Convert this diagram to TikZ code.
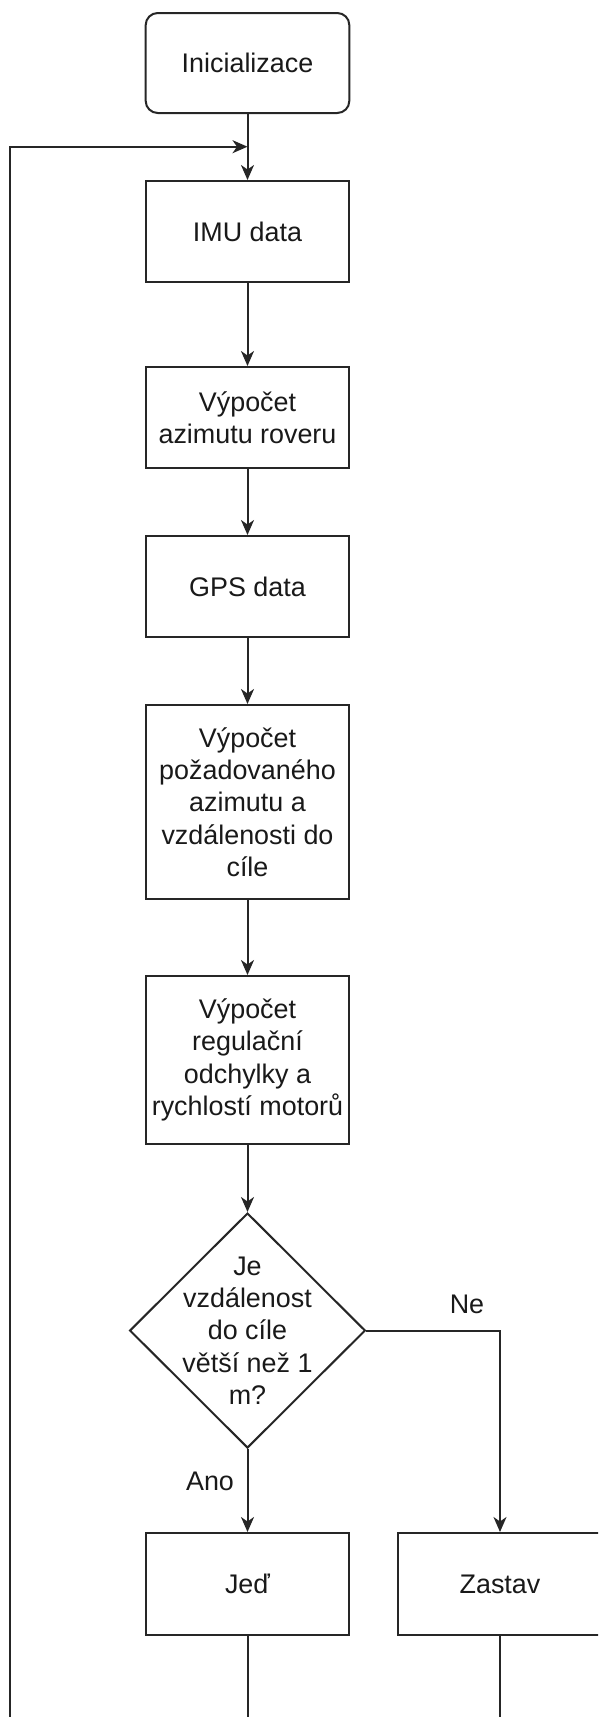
\documentclass[tikz,border=0pt]{standalone}
\usepackage{fontspec}
\setmainfont{Liberation Sans}
\usetikzlibrary{shapes.geometric,arrows.meta}
\begin{document}
\begin{tikzpicture}[x=1pt,y=-1pt,
  every node/.style={font=\fontsize{26.9}{32.3}\selectfont, text=black!90},
  box/.style={draw=black!85, line width=2pt, rectangle, minimum width=203.6pt, inner sep=0pt, align=center},
  startbox/.style={box, rounded corners=12pt},
  decision/.style={draw=black!85, line width=2pt, diamond, minimum width=235.7pt, minimum height=235pt, inner sep=0pt},
  conn/.style={draw=black!85, line width=2pt, -{Stealth[length=15pt,width=13pt,inset=4.5pt]}},
  plain/.style={draw=black!85, line width=2pt},
  lbl/.style={inner sep=0pt, align=center}
]
\useasboundingbox (0,0) rectangle (598,1717);
\clip (0,0) rectangle (598,1717);

\node[startbox, minimum height=100pt] (init) at (247.5,63) {Inicializace};
\node[box, minimum height=101pt] (imu) at (247.5,231.5) {IMU data};
\node[box, minimum height=101pt] (azim) at (247.5,417.5) {Výpočet\\azimutu roveru};
\node[box, minimum height=101pt] (gps) at (247.5,586.5) {GPS data};
\node[box, minimum height=194pt] (poz) at (247.5,802) {Výpočet\\požadovaného\\azimutu a\\vzdálenosti do\\cíle};
\node[box, minimum height=168pt] (reg) at (247.5,1060) {Výpočet\\regulační\\odchylky a\\rychlostí motorů};
\node[decision] (dec) at (247.5,1330.5) {};
\node[lbl] (dectext) at (dec.center) {Je\\vzdálenost\\do cíle\\větší než 1\\m?};
\node[box, minimum height=102pt] (jed) at (247.5,1584) {Jeď};
\node[box, minimum height=102pt] (zastav) at (500,1584) {Zastav};

\node[lbl] (ne) at (467,1304) {Ne};
\node[lbl] (ano) at (210,1481) {Ano};

\coordinate (loopbot) at (10,1717);
\coordinate (loopcorner) at (10,146.7);

\draw[conn] (init) -- (imu);
\draw[conn] (loopbot) -- (loopcorner) -- (init.south |- loopcorner);
\draw[conn] (imu) -- (azim);
\draw[conn] (azim) -- (gps);
\draw[conn] (gps) -- (poz);
\draw[conn] (poz) -- (reg);
\draw[conn] (reg) -- (dec);
\draw[conn] (dec) -- (jed);
\draw[conn] (dec.east) -| (zastav.north);
\draw[plain] (jed.south) -- (jed.south |- loopbot);
\draw[plain] (zastav.south) -- (zastav.south |- loopbot);
\end{tikzpicture}
\end{document}
